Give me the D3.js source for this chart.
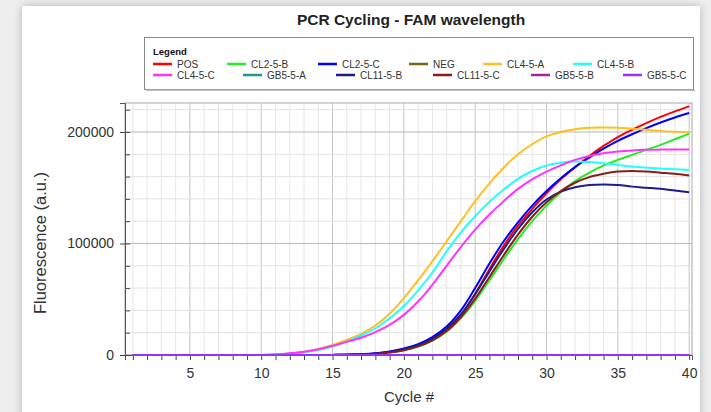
<!DOCTYPE html>
<html><head><meta charset="utf-8">
<script src="https://cdn.jsdelivr.net/npm/d3@7"></script>
<style>
html,body{margin:0;padding:0;background:#eeeeee;}
svg{display:block;font-family:"Liberation Sans",Arial,sans-serif;}
</style></head>
<body>
<svg id="c" width="711" height="412"></svg>
<script>
const cycles = d3.range(1, 41);
const seriesNames = ["POS","CL2-5-B","CL2-5-C","NEG","CL4-5-A","CL4-5-B","CL4-5-C","GB5-5-A","CL11-5-B","CL11-5-C","GB5-5-B","GB5-5-C"];
const seriesColors = ["#ff0000","#22ee22","#0000ff","#7f6410","#ffbf1f","#22ffff","#ff33ff","#1f9a8e","#1c1c8c","#8c1c1c","#a8239c","#9433ff"];
const zeros = [0,0,0,0,0,0,0,0,0,0,0,0,0,0,0,0,0,0,0,0,0,0,0,0,0,0,0,0,0,0,0,0,0,0,0,0,0,0,0,0];
const POS     = [0,0,0,0,0,0,0,0,0,0,0,0,0,0,100,300,700,1400,2700,5000,8500,14000,22500,36000,55000,77000,98000,116000,131000,145000,157500,168500,178500,187500,195500,202000,208000,213500,218500,223000];
const CL2_5_B = [0,0,0,0,0,0,0,0,0,0,0,0,0,0,50,200,450,1000,2200,4300,7600,13000,21000,33000,48500,67000,86000,104000,120000,134000,146000,156000,163500,170000,175000,179500,184000,188500,193500,198500];
const CL2_5_C = [0,0,0,0,0,0,0,0,0,0,0,0,0,0,100,300,800,1600,3200,5800,9800,16000,25500,40000,60000,82000,102000,119000,134000,147000,158500,168500,177000,185000,192000,198000,203500,208500,213000,217000];
const NEG     = zeros;
const CL4_5_A = [0,0,0,0,0,0,0,0,0,0,500,1400,3000,5500,9000,13500,19000,26500,37000,51000,67000,84000,102000,120000,138000,154000,168000,180000,189000,196000,200000,202500,203800,204000,203800,203000,202000,201000,200300,199800];
const CL4_5_B = [0,0,0,0,0,0,0,0,0,0,400,1200,2500,4500,7500,12000,17500,24000,33000,44000,58000,74000,93000,110000,124500,137500,148500,158000,165000,170000,172500,173500,173000,172000,170500,169000,168000,167200,166500,166000];
const CL4_5_C = [0,0,0,0,0,0,0,0,0,0,500,1500,3000,5200,8300,11800,15500,20500,27000,36000,48000,63000,80000,97000,112500,126000,138000,149000,157500,164500,170000,175000,178500,181000,182500,183500,184000,184200,184300,184300];
const GB5_5_A = zeros;
const CL11_5_B = [0,0,0,0,0,0,0,0,0,0,0,0,0,0,100,250,650,1400,2800,5100,8800,14700,23500,36500,54500,75000,95000,113000,128000,139500,146500,150500,152500,153000,152500,151000,150000,149000,147500,146000];
const CL11_5_C = [0,0,0,0,0,0,0,0,0,0,0,0,0,0,50,200,450,1000,2200,4300,7700,13200,21500,34000,50500,70000,89500,108000,124000,137000,147000,154500,159500,162500,164500,165000,164500,163500,162500,161000];
const GB5_5_B = zeros;
const GB5_5_C = zeros;
const seriesValues = [POS,CL2_5_B,CL2_5_C,NEG,CL4_5_A,CL4_5_B,CL4_5_C,GB5_5_A,CL11_5_B,CL11_5_C,GB5_5_B,GB5_5_C];
const xTicks = [5,10,15,20,25,30,35,40];
const yTicks = [0,100000,200000];

const svg = d3.select("#c");
const defs = svg.append("defs");
const f = defs.append("filter").attr("id","sh").attr("x","-5%").attr("y","-5%").attr("width","110%").attr("height","110%");
f.append("feGaussianBlur").attr("in","SourceAlpha").attr("stdDeviation",4);
f.append("feComponentTransfer").append("feFuncA").attr("type","linear").attr("slope",0.25);
const fm = f.append("feMerge"); fm.append("feMergeNode"); fm.append("feMergeNode").attr("in","SourceGraphic");

svg.append("rect").attr("x",22).attr("y",6).attr("width",678).attr("height",420).attr("fill","#fff").attr("filter","url(#sh)");

const x = d3.scaleLinear().domain([0.45, 40.2]).range([125, 692]);
const y = d3.scaleLinear().domain([0, 226000]).range([355, 103]);

// title
svg.append("text").attr("x",411).attr("y",25).attr("text-anchor","middle").attr("font-size",15.5).attr("font-weight","bold").attr("fill","#222").text("PCR Cycling - FAM wavelength");

// legend
const lg = svg.append("g");
lg.append("rect").attr("x",144.5).attr("y",37.5).attr("width",549).attr("height",52).attr("fill","#fff").attr("stroke","#888").attr("stroke-width",1);
lg.append("rect").attr("x",146).attr("y",89.5).attr("width",549).attr("height",1.5).attr("fill","#bbb");
lg.append("text").attr("x",153).attr("y",55).attr("font-size",9.5).attr("font-weight","bold").attr("fill","#111").text("Legend");
const colX = [[153,227,318,409,483,573],[153,243,336,433,531,623]];
seriesNames.forEach((n,i)=>{
  const r = Math.floor(i/6), c = i%6;
  const sx = colX[r][c], sy = r===0 ? 64 : 75;
  lg.append("line").attr("x1",sx).attr("x2",sx+19).attr("y1",sy).attr("y2",sy).attr("stroke",seriesColors[i]).attr("stroke-width",2.5);
  lg.append("text").attr("x",sx+24).attr("y",sy+3.5).attr("font-size",10).attr("fill","#333").text(n);
});

// grid
const g = svg.append("g");
const minorY = d3.range(0, 226000, 20000);
g.selectAll(".vg").data(cycles).join("line")
  .attr("x1",d=>x(d)).attr("x2",d=>x(d)).attr("y1",y(226000)).attr("y2",y(0))
  .attr("stroke",d=>d%5===0?"#c4c4c4":"#e6e6e6").attr("stroke-width",1);
g.selectAll(".hg").data(minorY).join("line")
  .attr("x1",x(0.45)).attr("x2",x(40.2)).attr("y1",d=>y(d)).attr("y2",d=>y(d))
  .attr("stroke",d=>d%100000===0?"#b8b8b8":"#e2e2e2").attr("stroke-width",1);
// frame
svg.append("rect").attr("x",x(0.45)).attr("y",y(226000)).attr("width",x(40.2)-x(0.45)).attr("height",y(0)-y(226000)).attr("fill","none").attr("stroke","#aaa");

// axes
const xAxis = d3.axisBottom(x).tickValues(cycles).tickSize(5).tickFormat(d=>xTicks.includes(d)?d:"");
const xa = svg.append("g").attr("transform",`translate(0,${y(0)})`).call(xAxis);
xa.select(".domain").attr("stroke","#555");
xa.selectAll(".tick line").attr("stroke","#444");
xa.selectAll("text").attr("font-size",14).attr("fill","#333").attr("dy","1.1em").attr("font-family","Liberation Sans, Arial, sans-serif");

const yAxisMinor = d3.axisLeft(y).tickValues(minorY).tickSize(5).tickFormat("");
const yam = svg.append("g").attr("transform",`translate(${x(0.45)+5},0)`).call(yAxisMinor);
yam.select(".domain").remove();
yam.selectAll(".tick line").attr("stroke","#444");
const yAxis = d3.axisLeft(y).tickValues(yTicks).tickSize(5).tickPadding(6).tickFormat(d3.format("d"));
const ya = svg.append("g").attr("transform",`translate(${x(0.45)},0)`).call(yAxis);
ya.select(".domain").attr("stroke","#555");
ya.selectAll(".tick line").attr("stroke","#444").attr("x2",-5);
ya.selectAll("text").attr("font-size",14).attr("fill","#333").attr("font-family","Liberation Sans, Arial, sans-serif");

svg.append("text").attr("transform","translate(46,243) rotate(-90)").attr("text-anchor","middle").attr("font-size",16.5).attr("fill","#333").text("Fluorescence (a.u.)");
svg.append("text").attr("x",409).attr("y",402).attr("text-anchor","middle").attr("font-size",15).attr("fill","#333").text("Cycle #");

// lines
const line = d3.line().x((d,i)=>x(cycles[i])).y(d=>y(d)).curve(d3.curveCatmullRom.alpha(0.5));
svg.append("g").selectAll("path").data(seriesValues).join("path")
  .attr("d",line).attr("fill","none").attr("stroke",(d,i)=>seriesColors[i]).attr("stroke-width",2);
</script>
</body></html>
